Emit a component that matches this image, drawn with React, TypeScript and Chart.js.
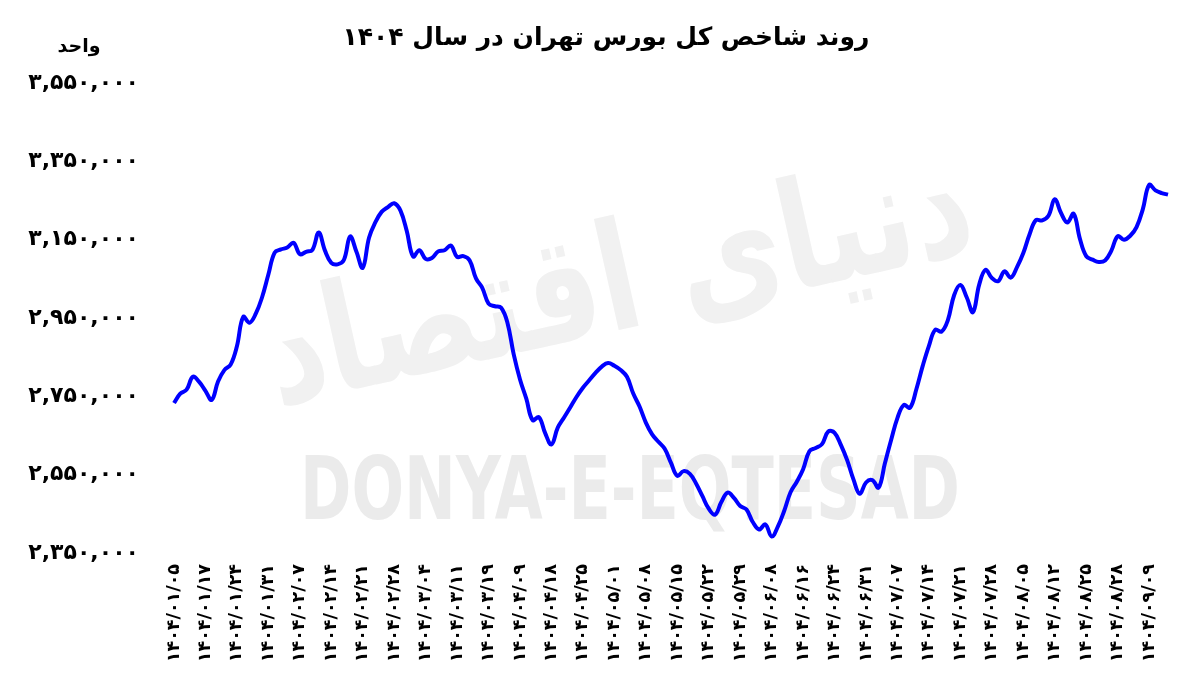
import React, { useEffect, useRef } from 'react';
import { Chart, registerables } from 'chart.js';

Chart.register(...registerables);

const TITLE = 'روند شاخص کل بورس تهران در سال ۱۴۰۴';
const UNIT = 'واحد';
const WATERMARK_LATIN = 'DONYA-E-EQTESAD';
const WATERMARK_FA = 'دنیای اقتصاد';

// labelled dates (one every 5 trading days)
const tickDates = [
  '1404/01/05', '1404/01/17', '1404/01/24', '1404/01/31', '1404/02/07', '1404/02/14',
  '1404/02/21', '1404/02/28', '1404/03/04', '1404/03/11', '1404/03/19', '1404/04/09',
  '1404/04/18', '1404/04/25', '1404/05/01', '1404/05/08', '1404/05/15', '1404/05/22',
  '1404/05/29', '1404/06/08', '1404/06/16', '1404/06/24', '1404/06/31', '1404/07/07',
  '1404/07/14', '1404/07/21', '1404/07/28', '1404/08/05', '1404/08/12', '1404/08/25',
  '1404/08/28', '1404/09/09',
];
const POINTS_PER_TICK = 5;

// daily index values
const indexValues = [
  2733000, 2757000, 2767000, 2800000, 2787000, 2764000, 2741000, 2788000, 2817000, 2831000,
  2878000, 2953000, 2938000, 2961000, 3003000, 3061000, 3117000, 3125000, 3130000, 3142000,
  3113000, 3119000, 3124000, 3168000, 3122000, 3091000, 3087000, 3098000, 3158000, 3119000,
  3078000, 3155000, 3194000, 3221000, 3233000, 3243000, 3224000, 3172000, 3107000, 3123000,
  3101000, 3103000, 3120000, 3123000, 3135000, 3106000, 3108000, 3097000, 3051000, 3027000,
  2987000, 2980000, 2976000, 2938000, 2857000, 2793000, 2744000, 2689000, 2697000, 2656000,
  2627000, 2670000, 2696000, 2722000, 2749000, 2772000, 2791000, 2810000, 2826000, 2835000,
  2828000, 2817000, 2800000, 2757000, 2724000, 2683000, 2653000, 2634000, 2616000, 2580000,
  2547000, 2559000, 2552000, 2527000, 2495000, 2463000, 2448000, 2480000, 2504000, 2491000,
  2470000, 2461000, 2429000, 2410000, 2423000, 2392000, 2418000, 2458000, 2505000, 2532000,
  2564000, 2610000, 2618000, 2628000, 2660000, 2657000, 2626000, 2587000, 2538000, 2501000,
  2530000, 2536000, 2517000, 2579000, 2639000, 2695000, 2728000, 2721000, 2768000, 2827000,
  2879000, 2920000, 2915000, 2944000, 3008000, 3034000, 3003000, 2965000, 3036000, 3073000,
  3052000, 3044000, 3069000, 3053000, 3080000, 3116000, 3164000, 3200000, 3199000, 3211000,
  3253000, 3218000, 3194000, 3216000, 3152000, 3108000, 3099000, 3093000, 3097000, 3122000,
  3159000, 3150000, 3160000, 3182000, 3228000, 3290000, 3276000, 3269000, 3265000,
];

const Y_MIN = 2350000;
const Y_MAX = 3550000;
const Y_STEP = 200000;

const FA_DIGITS = '۰۱۲۳۴۵۶۷۸۹';
const toFa = (s: string) => s.replace(/[0-9]/g, (d) => FA_DIGITS[Number(d)]);

const labels = indexValues.map((_, i) =>
  i % POINTS_PER_TICK === 0 ? tickDates[i / POINTS_PER_TICK] ?? '' : ''
);

const FONT = '"DejaVu Sans", sans-serif';

const decorPlugin = {
  id: 'decor',
  beforeDatasetsDraw(chart: any) {
    const { ctx } = chart;
    ctx.save();
    ctx.fillStyle = '#ebebeb';
    ctx.direction = 'ltr';
    ctx.textAlign = 'left';
    ctx.textBaseline = 'alphabetic';
    ctx.font = `bold 88px ${FONT}`;
    ctx.fillText(WATERMARK_LATIN, 300, 519, 660);
    ctx.restore();

    ctx.save();
    ctx.fillStyle = '#f1f1f1';
    ctx.direction = 'rtl';
    ctx.translate(620, 290);
    ctx.rotate(-0.22);
    ctx.textAlign = 'center';
    ctx.textBaseline = 'middle';
    ctx.font = `bold 150px ${FONT}`;
    ctx.fillText(WATERMARK_FA, 0, 0, 720);
    ctx.restore();
  },
  afterDraw(chart: any) {
    const { ctx } = chart;
    ctx.save();
    ctx.fillStyle = '#000';
    ctx.direction = 'rtl';
    ctx.textAlign = 'center';
    ctx.textBaseline = 'middle';
    ctx.font = `bold 25px ${FONT}`;
    ctx.fillText(TITLE, 606, 38);
    ctx.font = `bold 19px ${FONT}`;
    ctx.fillText(UNIT, 79, 47);
    ctx.restore();
  },
};

export default function App() {
  const canvasRef = useRef<HTMLCanvasElement | null>(null);

  useEffect(() => {
    if (!canvasRef.current) return;
    const chart = new Chart(canvasRef.current, {
      type: 'line',
      data: {
        labels,
        datasets: [
          {
            data: indexValues,
            borderColor: '#0000ff',
            borderWidth: 4,
            pointRadius: 0,
            tension: 0.4,
            fill: false,
          },
        ],
      },
      options: {
        responsive: false,
        animation: false,
        devicePixelRatio: 1,
        layout: { padding: { top: 83, right: 27, left: 0, bottom: 0 } },
        plugins: {
          legend: { display: false },
          tooltip: { enabled: false },
          title: { display: false },
        },
        scales: {
          x: {
            type: 'category',
            offset: false,
            grid: { display: false, drawTicks: false },
            border: { display: false },
            ticks: {
              autoSkip: false,
              maxRotation: 90,
              minRotation: 90,
              padding: 11,
              color: '#000',
              font: { family: FONT, size: 17.5, weight: 'bold' },
              callback: (_v: any, i: number) => (labels[i] ? toFa(labels[i]) : ''),
            },
            afterFit: (scale: any) => {
              scale.height = 132;
            },
          },
          y: {
            min: Y_MIN,
            max: Y_MAX,
            grid: { display: false, drawTicks: false },
            border: { display: false },
            ticks: {
              stepSize: Y_STEP,
              padding: 35,
              color: '#000',
              font: { family: FONT, size: 22, weight: 'bold' },
              callback: (v: any) => toFa(Number(v).toLocaleString('en-US')),
            },
            afterFit: (scale: any) => {
              scale.width = 174;
            },
          },
        },
      },
      plugins: [decorPlugin],
    });
    return () => chart.destroy();
  }, []);

  return (
    <div
      style={{
        position: 'fixed',
        left: 0,
        top: 0,
        width: 1200,
        height: 685,
        background: '#fff',
      }}
    >
      <canvas ref={canvasRef} width={1200} height={685} style={{ display: 'block' }} />
    </div>
  );
}
